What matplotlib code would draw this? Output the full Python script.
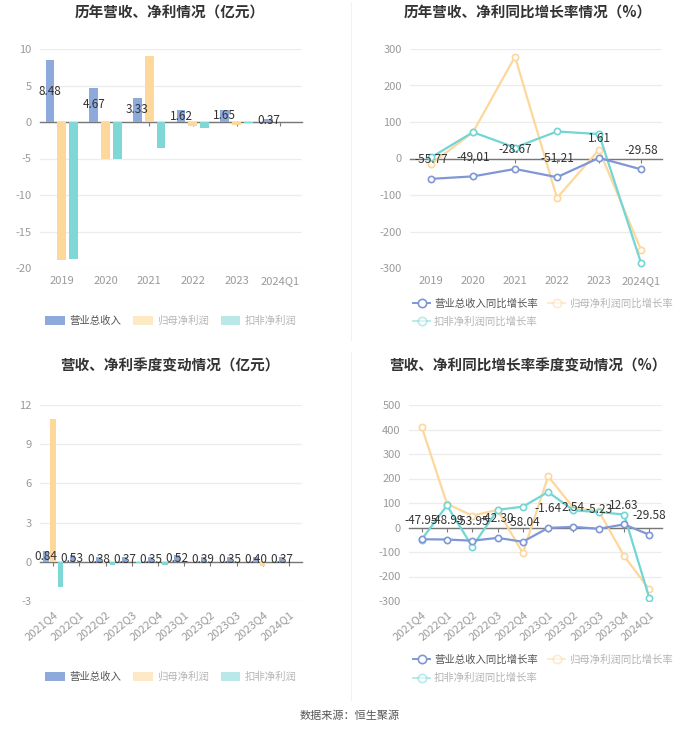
import matplotlib
matplotlib.use("Agg")
import matplotlib.pyplot as plt
from matplotlib.lines import Line2D
from matplotlib.patches import Patch
import numpy as np

plt.rcParams['font.family'] = ['Noto Sans CJK SC', 'DejaVu Sans']
plt.rcParams['axes.unicode_minus'] = False

# ---------------- data ----------------
years = ["2019", "2020", "2021", "2022", "2023", "2024Q1"]
rev_year = [8.48, 4.67, 3.33, 1.62, 1.65, 0.37]
np_year = [-18.9, -5.05, 9.0, -0.55, -0.4, -0.02]
dnp_year = [-18.75, -5.1, -3.5, -0.87, -0.2, -0.05]

rev_yoy_year = [-55.77, -49.01, -28.67, -51.21, 1.61, -29.58]
np_yoy_year = [-15, 72, 279, -108, 24, -250]
dnp_yoy_year = [3, 72, 30, 74, 67, -286]

quarters = ["2021Q4", "2022Q1", "2022Q2", "2022Q3", "2022Q4",
            "2023Q1", "2023Q2", "2023Q3", "2023Q4", "2024Q1"]
rev_q = [0.84, 0.53, 0.38, 0.37, 0.35, 0.52, 0.39, 0.35, 0.40, 0.37]
np_q = [10.9, 0.02, -0.1, 0.05, -0.05, 0.03, 0.02, 0.02, -0.33, -0.02]
dnp_q = [-1.9, -0.05, -0.28, -0.08, -0.25, -0.02, -0.02, -0.03, -0.05, -0.05]

rev_yoy_q = [-47.95, -48.99, -53.95, -42.30, -58.04, -1.64, 2.54, -5.23, 12.63, -29.58]
np_yoy_q = [411, 97, 48, 72, -105, 209, 80, 67, -116, -253]
dnp_yoy_q = [-49, 90, -78, 72, 85, 145, 70, 63, 53, -288]

bar_names = ["营业总收入", "归母净利润", "扣非净利润"]
line_names = ["营业总收入同比增长率", "归母净利润同比增长率", "扣非净利润同比增长率"]
titles = ["历年营收、净利情况（亿元）", "历年营收、净利同比增长率情况（%）",
          "营收、净利季度变动情况（亿元）", "营收、净利同比增长率季度变动情况（%）"]
source = "数据来源：恒生聚源"

C_BLUE = "#8eaadc"
C_YEL = "#fed79a"
C_CYAN = "#7fd7d6"
L_BLUE = "#7f97d6"
L_YEL = "#fdd79b"
L_CYAN = "#72d6d6"
GRID = "#ececec"
TICK = "#9a9a9a"
LBL = "#333333"

W, H = 700, 733
fig = plt.figure(figsize=(W / 100, H / 100), dpi=100)


def ax_at(l, r, t, b):
    return fig.add_axes([l / W, 1 - b / H, (r - l) / W, (b - t) / H])


def style(ax, cats, ylim, step, rot=False):
    n = len(cats)
    ax.set_xlim(-0.5, n - 0.5)
    ax.set_ylim(*ylim)
    ax.set_yticks(np.arange(ylim[0], ylim[1] + 0.001, step))
    ax.grid(axis='y', color=GRID, lw=0.9)
    ax.set_axisbelow(True)
    for s in ["top", "right", "left"]:
        ax.spines[s].set_visible(False)
    ax.spines["bottom"].set_position(("data", 0))
    ax.spines["bottom"].set_color("#777777")
    ax.spines["bottom"].set_linewidth(1.0)
    ax.set_xticks(range(n))
    ax.tick_params(axis='x', length=3, color="#777777", labelbottom=False)
    ax.tick_params(axis='y', length=0, labelsize=8, labelcolor=TICK, pad=6)
    sec = ax.secondary_xaxis(0)
    sec.set_xticks(range(n))
    if rot:
        sec.set_xticklabels(cats, rotation=40, ha='right', rotation_mode='anchor')
    else:
        sec.set_xticklabels(cats)
    sec.tick_params(length=0, labelsize=8, labelcolor=TICK, pad=6)
    sec.spines["bottom"].set_visible(False)


def bars(ax, cats, a, b, c):
    x = np.arange(len(cats))
    w, off = 0.2, 0.27
    ax.bar(x - off, a, w, color=C_BLUE, zorder=3)
    ax.bar(x, b, w, color=C_YEL, zorder=3)
    ax.bar(x + off, c, w, color=C_CYAN, zorder=3)
    for xi, v in zip(x - off, a):
        ax.text(xi, v / 2, f"{v:.2f}", ha='center', va='center', fontsize=8.5,
                color=LBL, zorder=5)


def lines(ax, cats, a, b, c):
    x = np.arange(len(cats))
    kw = dict(marker='o', ms=4.5, mfc='white', mew=1.2, lw=1.6, zorder=3)
    ax.plot(x, b, color=L_YEL, mec=L_YEL, **kw)
    ax.plot(x, c, color=L_CYAN, mec=L_CYAN, **kw)
    ax.plot(x, a, color=L_BLUE, mec=L_BLUE, **kw)
    for xi, v in zip(x, a):
        ax.annotate(f"{v:.2f}", (xi, v), xytext=(0, 9), textcoords='offset points',
                    ha='center', va='bottom', fontsize=8.5, color=LBL, zorder=5)


def bar_legend(ax, xc, y):
    handles = [Patch(facecolor=C_BLUE, edgecolor='none'),
               Patch(facecolor=C_YEL, edgecolor='none', alpha=0.55),
               Patch(facecolor=C_CYAN, edgecolor='none', alpha=0.55)]
    leg = ax.legend(handles, bar_names, loc='center', bbox_to_anchor=(xc / W, y),
                    bbox_transform=fig.transFigure, ncol=3, frameon=False,
                    fontsize=7.5, handlelength=1.9, handleheight=1.0,
                    columnspacing=1.1, handletextpad=0.45)
    for i, t in enumerate(leg.get_texts()):
        t.set_color("#555555" if i == 0 else "#b5b5b5")


def line_legend(ax, xl, y):
    def h(col, a):
        return Line2D([], [], color=col, marker='o', mfc='white', mec=col,
                      ms=6, mew=1.2, lw=1.4, alpha=a)
    hs = [h(L_BLUE, 1.0), h(L_CYAN, 0.5), h(L_YEL, 0.5)]
    labs = [line_names[0], line_names[2], line_names[1]]
    leg = ax.legend(hs, labs, loc='center left', bbox_to_anchor=(xl / W, y),
                    bbox_transform=fig.transFigure, ncol=2, frameon=False,
                    fontsize=7.5, handlelength=1.6, columnspacing=1.0,
                    handletextpad=0.4, labelspacing=0.75, borderpad=0)
    for i, t in enumerate(leg.get_texts()):
        t.set_color("#555555" if i == 0 else "#b5b5b5")


# top-left
ax1 = ax_at(40, 302, 49, 268)
style(ax1, years, (-20, 10), 5)
bars(ax1, years, rev_year, np_year, dnp_year)
bar_legend(ax1, 171, 1 - 321 / H)

# top-right
ax2 = ax_at(410, 662, 49, 268)
style(ax2, years, (-300, 300), 100)
lines(ax2, years, rev_yoy_year, np_yoy_year, dnp_yoy_year)
line_legend(ax2, 408, 1 - 312.5 / H)

# bottom-left
ax3 = ax_at(40, 302, 405, 601)
style(ax3, quarters, (-3, 12), 3, rot=True)
bars(ax3, quarters, rev_q, np_q, dnp_q)
bar_legend(ax3, 171, 1 - 677 / H)

# bottom-right
ax4 = ax_at(409, 662, 405, 601)
style(ax4, quarters, (-300, 500), 100, rot=True)
lines(ax4, quarters, rev_yoy_q, np_yoy_q, dnp_yoy_q)
line_legend(ax4, 408, 1 - 669 / H)

# titles
for (xc, yc), t in zip([(170, 13), (528, 13), (170, 366), (528, 366)], titles):
    fig.text(xc / W, 1 - yc / H, t, ha='center', va='center', fontsize=10.5,
             fontweight='bold', color="#333333")

fig.text(350 / W, 1 - 716 / H, source, ha='center', va='center', fontsize=8,
         color="#555555")

# faint separators
fig.add_artist(Line2D([351 / W, 351 / W], [1 - 2 / H, 1 - 340 / H],
                      color="#f2f2f2", lw=0.8))
fig.add_artist(Line2D([351 / W, 351 / W], [1 - 352 / H, 1 - 700 / H],
                      color="#f2f2f2", lw=0.8))

fig.savefig("out.png", dpi=100, facecolor='white')
